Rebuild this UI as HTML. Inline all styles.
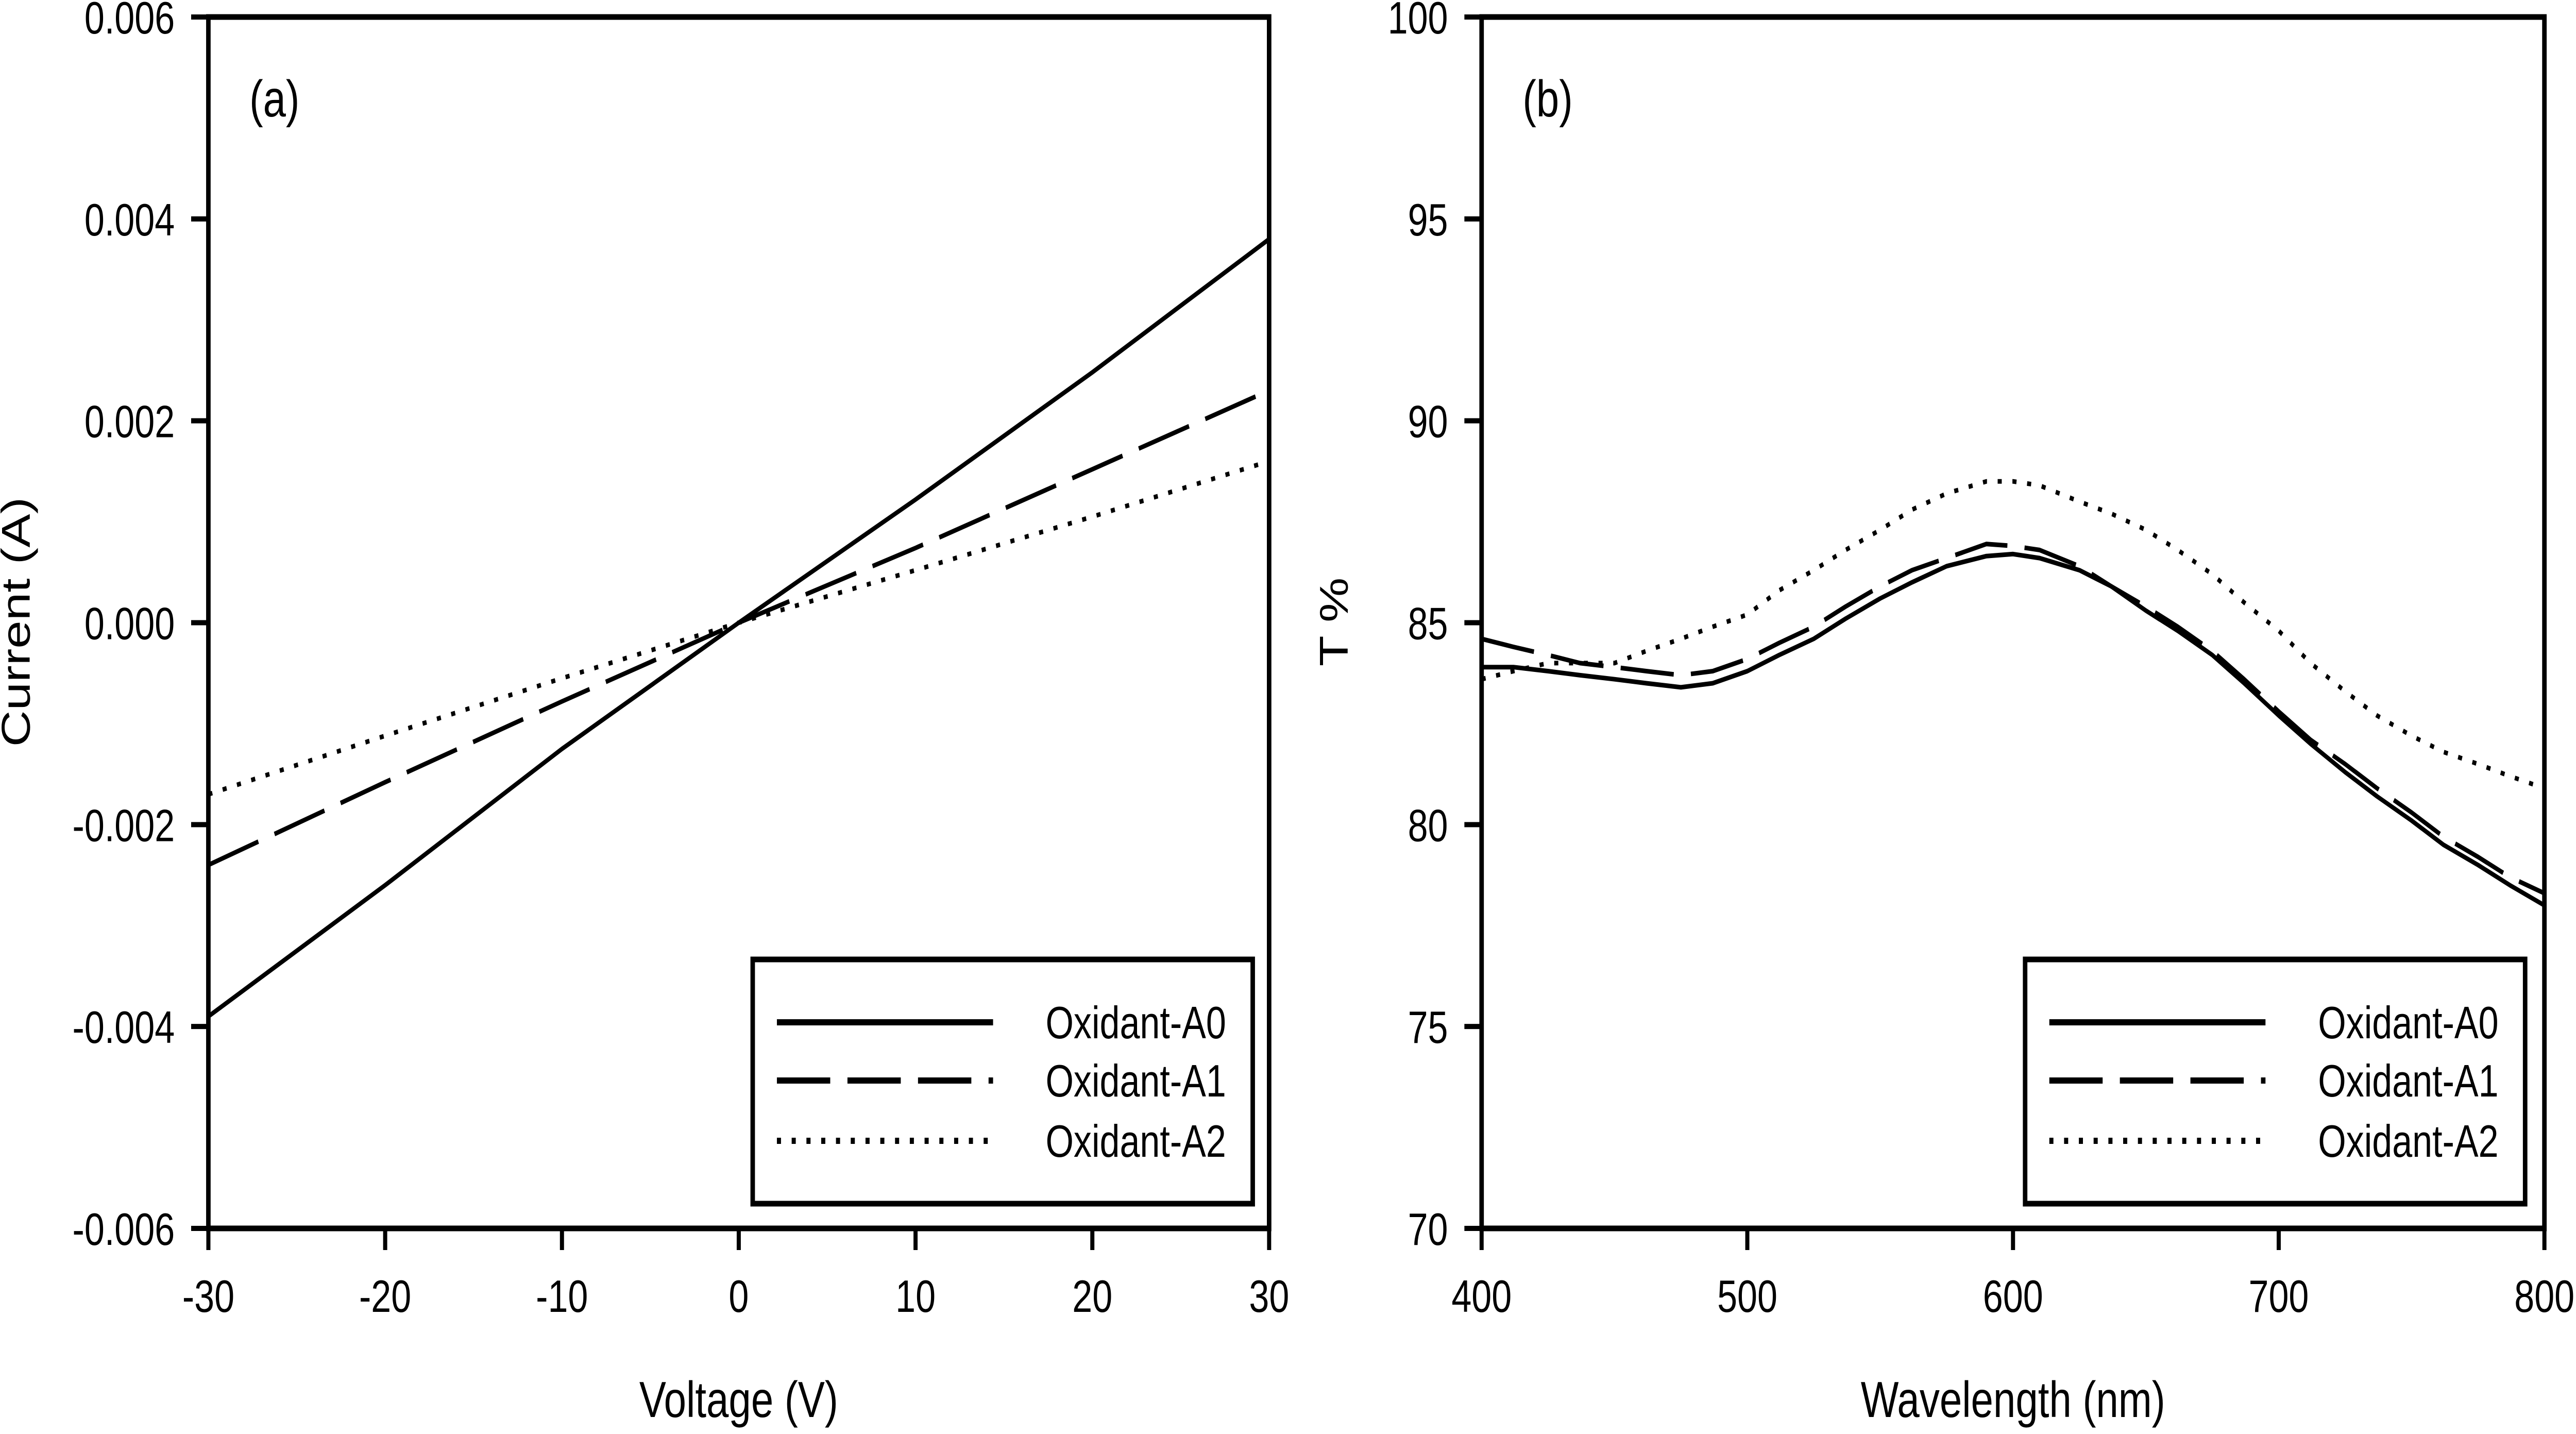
<!DOCTYPE html>
<html><head><meta charset="utf-8"><style>
html,body{margin:0;padding:0;background:#fff;overflow:hidden;width:100%;height:100%;}
svg{display:block;font-family:"Liberation Sans",Arial,sans-serif;width:100vw;height:100vh;}
</style></head><body>
<svg id="fig" viewBox="0 0 6280 2783" preserveAspectRatio="none" xmlns="http://www.w3.org/2000/svg"></svg>
<script>
// ---- Panel (a) data ----
const voltages = [-30,-20,-10,0,10,20,30];
const currentA0 = [-0.0039,-0.0026,-0.00125,0,0.00122,0.00248,0.0038];
const currentA1 = [-0.0024,-0.00158,-0.00078,0,0.00074,0.00152,0.0023];
const currentA2 = [-0.0017,-0.00112,-0.00055,0,0.00052,0.00105,0.0016];
const voltageTicks = [-30,-20,-10,0,10,20,30];
const currentTicks = [-0.006,-0.004,-0.002,0,0.002,0.004,0.006];
const currentTickLabels = ["-0.006","-0.004","-0.002","0.000","0.002","0.004","0.006"];
// ---- Panel (b) data ----
const wavelengths = [400,412,425,437,450,462,475,487,500,512,525,537,550,562,575,590,600,610,625,637,650,662,675,687,700,712,725,737,750,762,775,787,800];
const transA0 = [83.9,83.9,83.8,83.7,83.6,83.5,83.4,83.5,83.8,84.2,84.6,85.1,85.6,86.0,86.4,86.65,86.7,86.6,86.3,85.9,85.3,84.8,84.2,83.5,82.7,82.0,81.3,80.7,80.1,79.5,79.0,78.5,78.0];
const transA1 = [84.6,84.4,84.2,84.0,83.9,83.8,83.7,83.8,84.1,84.5,84.9,85.4,85.9,86.3,86.6,86.95,86.9,86.8,86.4,85.9,85.4,84.9,84.3,83.6,82.8,82.1,81.5,80.9,80.3,79.7,79.2,78.7,78.3];
const transA2 = [83.6,83.8,84.0,84.0,84.0,84.3,84.6,84.9,85.2,85.8,86.3,86.8,87.3,87.8,88.2,88.5,88.5,88.4,88.0,87.7,87.3,86.8,86.2,85.5,84.8,84.0,83.3,82.7,82.2,81.8,81.5,81.2,80.9];
const wlTicks = [400,500,600,700,800];
const tTicks = [70,75,80,85,90,95,100];
const seriesNames = ["Oxidant-A0","Oxidant-A1","Oxidant-A2"];

const NS="http://www.w3.org/2000/svg";
const svg=document.getElementById('fig');
function mk(tag,attrs,parent){const e=document.createElementNS(NS,tag);for(const k in attrs)e.setAttribute(k,attrs[k]);(parent||svg).appendChild(e);return e;}
const styles=[{dash:null},{dash:"130 42"},{dash:"10 26"}];
const FS=88;

function panel(cfg){
  const g=mk('g',{});
  
  
  const {L,R,T,B}=cfg;
  const sx=v=>L+(v-cfg.xmin)/(cfg.xmax-cfg.xmin)*(R-L);
  const sy=v=>B-(v-cfg.ymin)/(cfg.ymax-cfg.ymin)*(B-T);
  cfg.series.forEach((ys,i)=>{
    const pts=cfg.xs.map((x,j)=>sx(x).toFixed(1)+","+sy(ys[j]).toFixed(1)).join(" ");
    const p=mk('polyline',{points:pts,fill:'none',stroke:'#000','stroke-width':9,'stroke-linejoin':'round'},g);
    if(styles[i].dash)p.setAttribute('stroke-dasharray',styles[i].dash);
    
    
  });
  const fr=mk('rect',{x:L,y:T,width:R-L,height:B-T,fill:'none',stroke:'#000','stroke-width':11},g);
  
  
  cfg.xticks.forEach(v=>{
    const x=sx(v);
    const t=mk('line',{x1:x,y1:B,x2:x,y2:B+42,stroke:'#000','stroke-width':10},g);
    
    
    const tx=mk('text',{x:x,y:B+162,'font-size':FS,'text-anchor':'middle'},g);
    tx.textContent=String(v);
    
    
  });
  cfg.yticks.forEach((v,i)=>{
    const y=sy(v);
    const t=mk('line',{x1:L-42,y1:y,x2:L,y2:y,stroke:'#000','stroke-width':10},g);
    
    
    const tx=mk('text',{x:L-82,y:y+32,'font-size':FS,'text-anchor':'end'},g);
    tx.textContent=cfg.ylabels?cfg.ylabels[i]:String(v);
    
    
  });
  const xt=mk('text',{x:(L+R)/2,y:2750,'font-size':98,'text-anchor':'middle'},g);
  xt.textContent=cfg.xtitle;
  
  
  const yt=mk('text',{x:0,y:0,'font-size':98,'text-anchor':'middle',transform:`translate(${cfg.ytx},1207) rotate(-90)`},g);
  yt.textContent=cfg.ytitle;
  
  
  const pl=mk('text',{x:L+100,y:226,'font-size':100},g);
  pl.textContent=cfg.label;
  
  
  const lg=mk('g',{},g);
  
  
  const lL=cfg.legR-1219, lT=1862;
  mk('rect',{x:lL,y:lT,width:1219,height:474,fill:'#fff',stroke:'#000','stroke-width':11},lg);
  const rows=[1984,2097,2214];
  seriesNames.forEach((n,i)=>{
    const e=mk('g',{},lg);
    
    
    const ln=mk('line',{x1:lL+59,y1:rows[i],x2:lL+586,y2:rows[i],stroke:'#000','stroke-width':12},e);
    if(styles[i].dash)ln.setAttribute('stroke-dasharray',styles[i].dash);
    const t=mk('text',{x:lL+714,y:rows[i]+31,'font-size':FS},e);
    t.textContent=n;
  });
}

panel({name:'panel-a-iv-curve',L:508,R:3094,T:33,B:2384,xmin:-30,xmax:30,ymin:-0.006,ymax:0.006,
  xs:voltages,series:[currentA0,currentA1,currentA2],xticks:voltageTicks,yticks:currentTicks,ylabels:currentTickLabels,
  xtitle:'Voltage (V)',ytitle:'Current (A)',ytx:72,label:'(a)',legR:3054});
panel({name:'panel-b-transmittance',L:3612,R:6203,T:33,B:2384,xmin:400,xmax:800,ymin:70,ymax:100,
  xs:wavelengths,series:[transA0,transA1,transA2],xticks:wlTicks,yticks:tTicks,
  xtitle:'Wavelength (nm)',ytitle:'T %',ytx:3286,label:'(b)',legR:6156});
</script>
</body></html>
